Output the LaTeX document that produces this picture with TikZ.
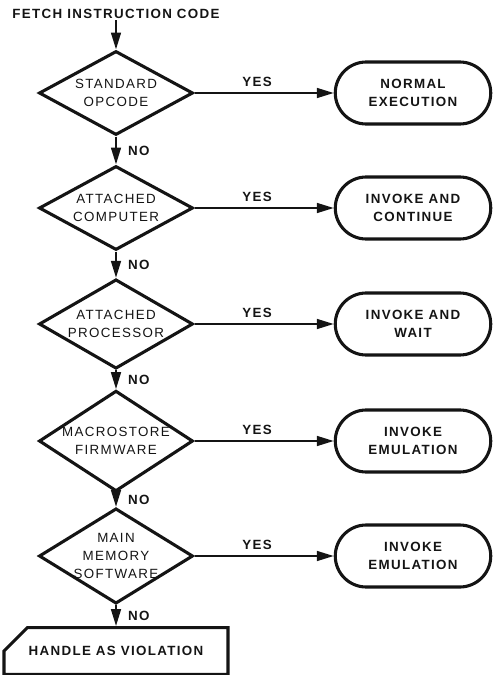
\documentclass[tikz,border=0pt]{standalone}
\usepackage{fontspec}
\setmainfont{Liberation Sans}[LetterSpace=10]
\usepackage{xcolor}
\usetikzlibrary{shapes.geometric,shapes.misc,arrows.meta,positioning}
\definecolor{ink}{HTML}{141414}

\begin{document}
\begin{tikzpicture}[
  x=0.025cm, y=-0.025cm,
  test/.style={diamond, draw=ink, line width=2.2pt, text=ink,
    minimum width=3.85cm, minimum height=2.1cm, inner sep=-6pt,
    align=center, font=\fontsize{9.5}{12.5}\selectfont},
  action/.style={rounded rectangle, draw=ink, line width=2.2pt, text=ink,
    minimum width=4.12cm, minimum height=1.55cm,
    align=center, font=\bfseries\fontsize{9.5}{12.5}\selectfont},
  trap/.style={chamfered rectangle, chamfered rectangle corners=north west,
    chamfered rectangle sep=0.35cm, draw=ink, line width=2.2pt, text=ink,
    minimum width=5.6cm, minimum height=1.07cm,
    font=\bfseries\fontsize{9.5}{12.5}\selectfont},
  flow/.style={-{Triangle[length=12pt,width=7pt]}, line width=1.4pt, ink},
  ans/.style={font=\bfseries\fontsize{9.5}{12.5}\selectfont, text=ink,
    inner sep=4pt}
]
\useasboundingbox (0,0) rectangle (497,675);

%─── DECISIONS ───────────────────────────────────────────────────────────────
\node[inner sep=1pt, text=ink, font=\bfseries\fontsize{9.5}{12.5}\selectfont]
  (fetch) at (116,14) {FETCH INSTRUCTION CODE};

\node[test] (std)   at (116,93)  {STANDARD\\OPCODE};
\node[test] (comp)  at (116,208) {ATTACHED\\COMPUTER};
\node[test] (proc)  at (116,324) {ATTACHED\\PROCESSOR};
\node[test] (macro) at (116,441) {MACROSTORE\\FIRMWARE};
\node[test] (mem)   at (116,556) {MAIN\\MEMORY\\SOFTWARE};

\node[trap] (viol)  at (116,651) {HANDLE AS VIOLATION};

%─── ACTIONS ─────────────────────────────────────────────────────────────────
\node[action] (normal)  at (413,93)  {NORMAL\\EXECUTION};
\node[action] (invcont) at (413,208) {INVOKE AND\\CONTINUE};
\node[action] (invwait) at (413,324) {INVOKE AND\\WAIT};
\node[action] (emufw)   at (413,441) {INVOKE\\EMULATION};
\node[action] (emusw)   at (413,556) {INVOKE\\EMULATION};

%─── NO BRANCH (down the left column) ────────────────────────────────────────
\draw[flow] (fetch) -- (std);
\draw[flow] (std)   -- node[ans,right,xshift=4pt]{NO} (comp);
\draw[flow] (comp)  -- node[ans,right,xshift=4pt]{NO} (proc);
\draw[flow] (proc)  -- node[ans,right,xshift=4pt]{NO} (macro);
\draw[flow] (macro) -- node[ans,right,xshift=4pt]{NO} (mem);
\draw[flow] (mem)   -- node[ans,right,xshift=4pt]{NO} (viol);

%─── YES BRANCH (across to the actions) ──────────────────────────────────────
\draw[flow] (std)   -- node[ans,above,pos=0.45]{YES} (normal);
\draw[flow] (comp)  -- node[ans,above,pos=0.45]{YES} (invcont);
\draw[flow] (proc)  -- node[ans,above,pos=0.45]{YES} (invwait);
\draw[flow] (macro) -- node[ans,above,pos=0.45]{YES} (emufw);
\draw[flow] (mem)   -- node[ans,above,pos=0.45]{YES} (emusw);

\end{tikzpicture}
\end{document}
